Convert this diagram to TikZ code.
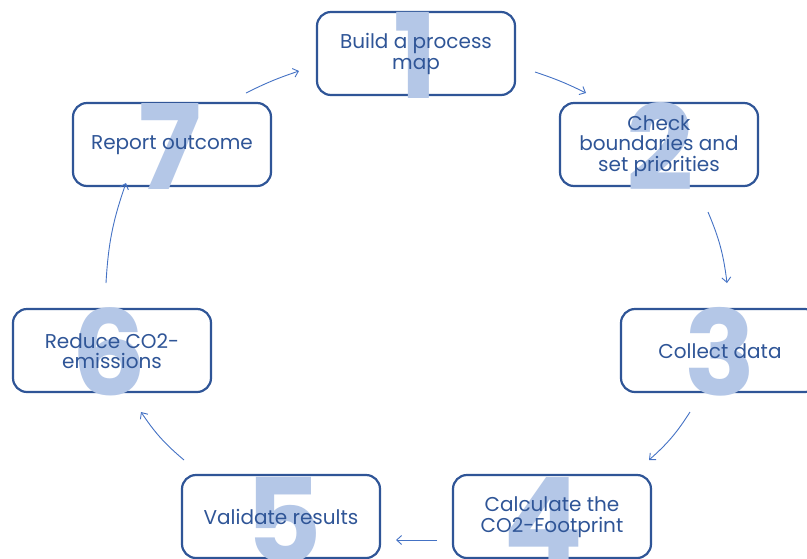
\documentclass[tikz,border=0pt]{standalone}
\usepackage{fontspec}
\setmainfont{Poppins}
\usetikzlibrary{arrows.meta}
\definecolor{dblue}{HTML}{2F5597}
\definecolor{lblue}{HTML}{B4C7E7}
\definecolor{ablue}{HTML}{4472C4}
\tikzset{
  stepbox/.style={draw=dblue, line width=2.2pt, rounded corners=14pt, fill=white,
    minimum width=198pt, minimum height=83pt, inner sep=0pt},
  bignum/.style={text=lblue, font=\fontsize{118}{118}\selectfont\bfseries, inner sep=0pt},
  steptext/.style={text=dblue, font=\fontsize{20}{20.5}\selectfont, align=center, inner sep=0pt},
  flow/.style={draw=ablue, line width=0.9pt, -{Straight Barb[length=5pt,width=9pt]}}
}
\begin{document}
\begin{tikzpicture}[x=1pt,y=-1pt]
\useasboundingbox (0,0) rectangle (807,558);
% boxes
\node[stepbox] (b1) at (416,53.5) {};
\node[stepbox] (b2) at (659,144.5) {};
\node[stepbox] (b3) at (720,350.5) {};
\node[stepbox] (b4) at (552,516.5) {};
\node[stepbox] (b5) at (281,516.5) {};
\node[stepbox] (b6) at (112,350.5) {};
\node[stepbox] (b7) at (172,144.5) {};
% digits
\node[bignum] (d1) at (416,55) {1};
\node[bignum] (d2) at (660,146) {2};
\node[bignum] (d3) at (720,352) {3};
\node[bignum] (d4) at (543,520) {4};
\node[bignum] (d5) at (284,520) {5};
\node[bignum] (d6) at (109,352) {6};
\node[bignum] (d7) at (170,146) {7};
% texts
\node[steptext] (t1) at (416,54) {Build a process\\map};
\node[steptext] (t2) at (659,146) {Check\\boundaries and\\set priorities};
\node[steptext] (t3) at (720,351) {Collect data};
\node[steptext] (t4) at (552,517) {Calculate the\\CO2-Footprint};
\node[steptext] (t5) at (281,517) {Validate results};
\node[steptext] (t6) at (112,351) {Reduce CO2-\\emissions};
\node[steptext] (t7) at (172,145) {Report outcome};
% arrow endpoints
\coordinate (a1s) at (535,72);  \coordinate (a1e) at (586,93);
\coordinate (a2s) at (708,212); \coordinate (a2e) at (727,283);
\coordinate (a3s) at (690,412); \coordinate (a3e) at (649,460);
\coordinate (a4s) at (437,540); \coordinate (a4e) at (396,540);
\coordinate (a5s) at (184,460); \coordinate (a5e) at (141,412);
\coordinate (a6s) at (106,283); \coordinate (a6e) at (126,183);
\coordinate (a7s) at (246,93);  \coordinate (a7e) at (299,71);
\draw[flow] (a1s) to[bend left=4] (a1e);
\draw[flow] (a2s) to[bend left=8] (a2e);
\draw[flow] (a3s) to[bend left=8] (a3e);
\draw[flow] (a4s) -- (a4e);
\draw[flow] (a5s) to[bend left=8] (a5e);
\draw[flow] (a6s) to[bend left=8] (a6e);
\draw[flow] (a7s) to[bend left=4] (a7e);
\end{tikzpicture}
\end{document}
